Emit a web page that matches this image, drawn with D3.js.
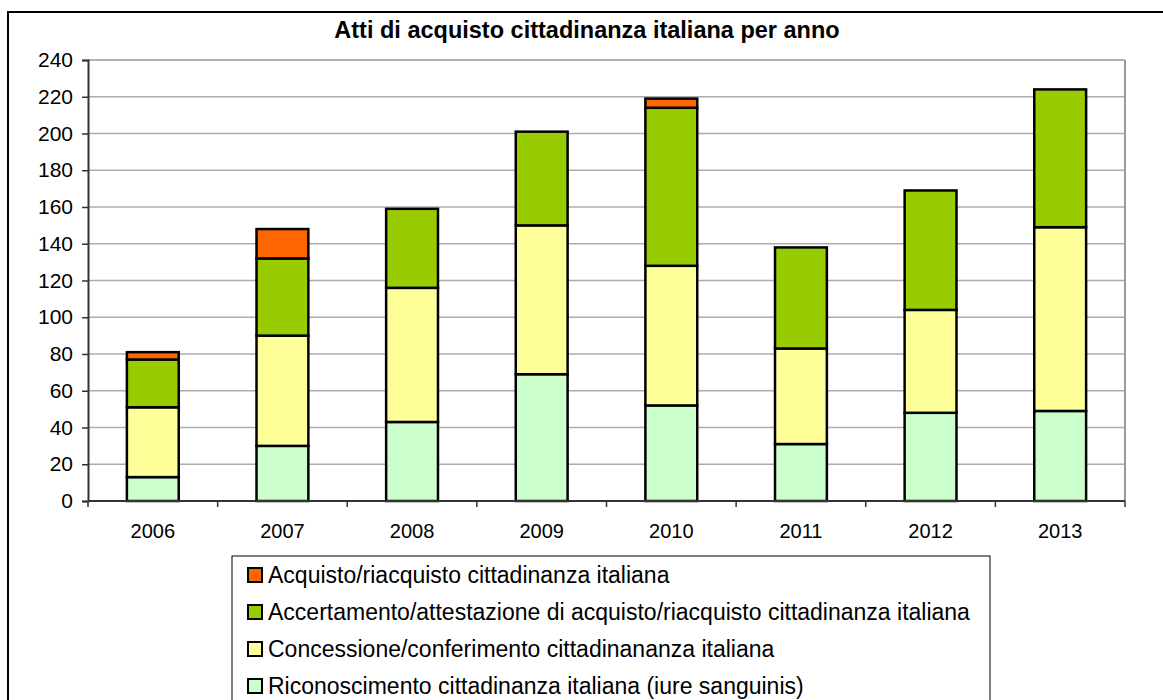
<html>
<head>
<title>Atti di acquisto cittadinanza italiana</title>
<script src="https://d3js.org/d3.v7.min.js"></script>
<style>
  body { margin: 0; background: #fff; }
  text { font-family: "Liberation Sans", Arial, sans-serif; fill: #000; }
</style>
</head>
<body>
<script>
// data
var years = ["2006", "2007", "2008", "2009", "2010", "2011", "2012", "2013"];
var riconoscimento = [13, 30, 43, 69, 52, 31, 48, 49];
var concessione    = [38, 60, 73, 81, 76, 52, 56, 100];
var accertamento   = [26, 42, 43, 51, 86, 55, 65, 75];
var acquisto       = [4, 16, 0, 0, 5, 0, 0, 0];
var yTicks = [0, 20, 40, 60, 80, 100, 120, 140, 160, 180, 200, 220, 240];

var seriesNames = [
  "Riconoscimento cittadinanza italiana (iure sanguinis)",
  "Concessione/conferimento cittadinananza italiana",
  "Accertamento/attestazione di acquisto/riacquisto cittadinanza italiana",
  "Acquisto/riacquisto cittadinanza italiana"
];
var seriesColors = ["#CCFFCC", "#FFFF99", "#99CC00", "#FF6600"];
var seriesValues = [riconoscimento, concessione, accertamento, acquisto];

var W = 1163, H = 700;
var plot = {left: 88, right: 1125, top: 60, bottom: 501};

var svg = d3.select("body").append("svg")
    .attr("width", W).attr("height", H);

// outer frame (cropped at right and bottom like the original)
svg.append("rect")
    .attr("x", 8).attr("y", 12).attr("width", 1300).attr("height", 900)
    .attr("fill", "#fff").attr("stroke", "#000").attr("stroke-width", 2);

svg.append("text")
    .attr("x", 587).attr("y", 38)
    .attr("text-anchor", "middle")
    .style("font-size", "23.5px").style("font-weight", "bold")
    .text("Atti di acquisto cittadinanza italiana per anno");

var x = d3.scaleBand().domain(years).range([plot.left, plot.right]).paddingInner(0.6).paddingOuter(0.3);
var xb = d3.scaleBand().domain(years).range([plot.left, plot.right]);
var y = d3.scaleLinear().domain([0, 240]).range([plot.bottom, plot.top]);

// gridlines
svg.append("g").selectAll("line").data(yTicks.filter(function(d) { return d > 0; })).enter()
    .append("line")
    .attr("x1", plot.left).attr("x2", plot.right)
    .attr("y1", function(d) { return y(d); }).attr("y2", function(d) { return y(d); })
    .attr("stroke", function(d) { return d == 240 ? "#999" : "#acacac"; })
    .attr("stroke-width", 1.6);

// right border of plot area
svg.append("line")
    .attr("x1", plot.right).attr("x2", plot.right)
    .attr("y1", plot.top).attr("y2", plot.bottom)
    .attr("stroke", "#999").attr("stroke-width", 2);

// stacked bars
var stackData = years.map(function(yr, i) {
  var row = {year: yr};
  seriesValues.forEach(function(s, k) { row["s" + k] = s[i]; });
  return row;
});
var stack = d3.stack().keys(["s0", "s1", "s2", "s3"]);
var layers = stack(stackData);

layers.forEach(function(layer, k) {
  svg.append("g").selectAll("rect")
      .data(layer.filter(function(d) { return d[1] - d[0] > 0; }))
      .enter().append("rect")
      .attr("x", function(d) { return x(d.data.year); })
      .attr("width", x.bandwidth())
      .attr("y", function(d) { return y(d[1]); })
      .attr("height", function(d) { return y(d[0]) - y(d[1]); })
      .attr("fill", seriesColors[k])
      .attr("stroke", "#000").attr("stroke-width", 2.5);
});

// y axis
var yAxis = d3.axisLeft(y).tickValues(yTicks).tickSize(6).tickPadding(9);
var gy = svg.append("g")
    .attr("transform", "translate(" + plot.left + ",0)")
    .call(yAxis);
gy.select(".domain").attr("stroke", "#333").attr("stroke-width", 2);
gy.selectAll(".tick line").attr("stroke", "#333").attr("stroke-width", 1.5);
gy.selectAll("text").style("font-size", "21px").style("font-family", "Liberation Sans, Arial, sans-serif").attr("fill", "#000");

// x axis: ticks between categories
var gx = svg.append("g")
    .attr("transform", "translate(0," + plot.bottom + ")");
gx.append("line")
    .attr("x1", plot.left).attr("x2", plot.right)
    .attr("stroke", "#333").attr("stroke-width", 2);
gx.selectAll(".sep").data(years).enter().append("line")
    .attr("x1", function(d) { return xb(d); }).attr("x2", function(d) { return xb(d); })
    .attr("y1", 0).attr("y2", 6)
    .attr("stroke", "#333").attr("stroke-width", 1.5);
gx.append("line")
    .attr("x1", plot.right).attr("x2", plot.right).attr("y1", 0).attr("y2", 6)
    .attr("stroke", "#333").attr("stroke-width", 1.5);
gx.selectAll(".lab").data(years).enter().append("text")
    .attr("x", function(d) { return xb(d) + xb.bandwidth() / 2; })
    .attr("y", 37)
    .attr("text-anchor", "middle")
    .style("font-size", "20px")
    .text(function(d) { return d; });

// legend
var legend = svg.append("g").attr("transform", "translate(232,556)");
legend.append("rect")
    .attr("width", 758).attr("height", 300)
    .attr("fill", "#fff").attr("stroke", "#000").attr("stroke-width", 1);
var order = [3, 2, 1, 0];
var items = legend.selectAll(".item").data(order).enter().append("g")
    .attr("transform", function(k, i) { return "translate(16," + (19 + i * 37) + ")"; });
items.append("rect")
    .attr("x", 0).attr("y", -7).attr("width", 14).attr("height", 14)
    .attr("fill", function(k) { return seriesColors[k]; })
    .attr("stroke", "#000").attr("stroke-width", 2);
items.append("text")
    .attr("x", 20).attr("y", 8)
    .style("font-size", "23px")
    .text(function(k) { return seriesNames[k]; });
</script>
</body>
</html>
